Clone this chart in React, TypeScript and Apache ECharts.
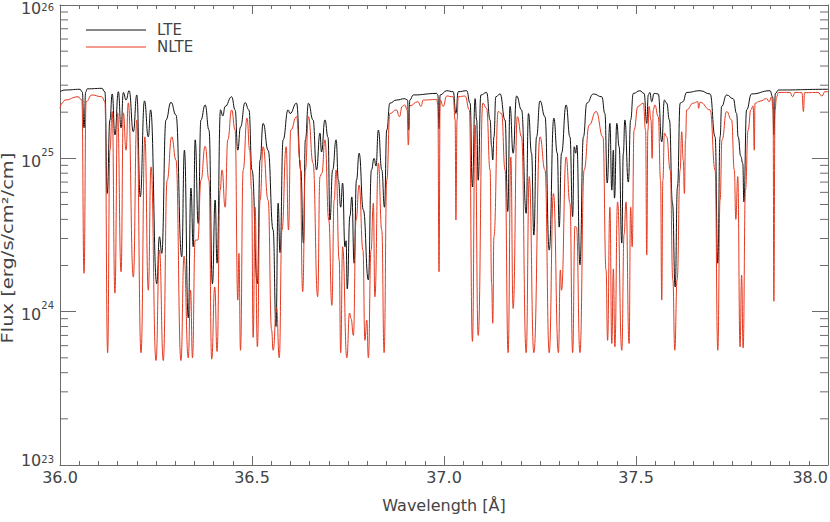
import React, { useEffect, useRef } from "react";
import * as echarts from "echarts";

// Wavelength [Å], flux in units of FLUX_UNIT
const FLUX_UNIT = 1e24;

const lteSpectrum: [number, number][] = [
  [36.000,27.2],[36.013,27.9],[36.052,28.2],[36.058,27.1],[36.0625,15.8],[36.067,27.1],[36.071,28.4],[36.109,28.6],
  [36.117,27.1],[36.123,5.9],[36.130,17.8],[36.136,26.3],[36.143,14.2],[36.152,27.2],[36.159,15.8],[36.165,26.9],
  [36.172,24.0],[36.180,27.6],[36.191,14.9],[36.200,25.9],[36.209,5.6],[36.220,23.7],[36.230,13.8],[36.236,20.7],
  [36.252,1.52],[36.259,3.08],[36.265,2.40],[36.276,17.8],[36.289,23.2],[36.302,19.2],[36.317,2.28],[36.324,11.3],
  [36.334,0.91],[36.341,6.4],[36.347,2.65],[36.352,13.2],[36.360,3.76],[36.367,17.8],[36.378,22.3],[36.388,15.3],
  [36.397,1.52],[36.404,5.35],[36.409,2.07],[36.418,20.7],[36.424,18.9],[36.430,21.8],[36.447,25.2],[36.456,20.7],
  [36.463,11.3],[36.470,16.0],[36.482,23.1],[36.492,20.7],[36.500,8.4],[36.514,1.52],[36.521,9.75],[36.529,16.9],
  [36.542,11.3],[36.555,3.41],[36.5625,0.80],[36.568,5.1],[36.573,2.43],[36.581,13.2],[36.594,20.7],[36.599,19.6],
  [36.616,22.9],[36.627,8.4],[36.634,2.8],[36.639,13.2],[36.647,22.9],[36.659,17.8],[36.668,8.4],[36.677,14.6],
  [36.681,11.0],[36.690,17.8],[36.698,13.7],[36.703,3.96],[36.710,8.4],[36.719,13.2],[36.725,7.2],[36.731,4.8],
  [36.736,6.9],[36.742,2.65],[36.745,2.9],[36.748,1.41],[36.755,4.2],[36.760,5.6],[36.766,2.07],[36.772,7.2],
  [36.779,10.8],[36.790,4.6],[36.803,1.61],[36.811,8.4],[36.818,10.0],[36.823,8.9],[36.829,15.3],[36.838,8.4],
  [36.845,4.8],[36.851,15.3],[36.859,22.9],[36.876,24.0],[36.898,24.5],[36.905,24.0],[36.908,15.3],[36.911,24.0],
  [36.920,25.9],[36.981,26.5],[36.984,25.9],[36.987,15.6],[36.990,25.9],[37.007,27.6],[37.024,27.2],[37.031,19.6],
  [37.037,27.2],[37.059,27.6],[37.068,22.9],[37.074,6.5],[37.081,24.5],[37.085,17.8],[37.089,7.2],[37.096,25.9],
  [37.111,26.9],[37.120,17.8],[37.124,11.9],[37.127,9.75],[37.130,13.8],[37.135,25.2],[37.146,26.3],[37.159,17.8],
  [37.166,4.5],[37.172,21.8],[37.180,10.8],[37.189,25.5],[37.202,20.7],[37.214,4.38],[37.220,19.6],[37.228,10.8],
  [37.234,3.16],[37.241,13.8],[37.250,23.7],[37.263,18.7],[37.274,2.52],[37.286,18.3],[37.295,10.8],[37.300,3.56],
  [37.306,10.8],[37.318,22.3],[37.328,13.8],[37.335,4.17],[37.339,11.9],[37.343,10.8],[37.346,12.2],[37.354,2.02],
  [37.363,13.8],[37.372,22.9],[37.389,26.3],[37.411,25.2],[37.419,19.6],[37.425,6.9],[37.432,16.9],[37.437,6.2],
  [37.441,11.3],[37.444,5.5],[37.450,16.9],[37.456,11.9],[37.463,2.8],[37.467,10.8],[37.471,17.8],[37.480,7.0],
  [37.486,17.8],[37.493,26.5],[37.510,27.6],[37.521,26.5],[37.528,16.9],[37.532,25.9],[37.536,26.9],[37.541,23.4],
  [37.547,26.5],[37.558,26.3],[37.567,12.8],[37.574,24.0],[37.580,22.9],[37.587,17.8],[37.595,5.1],[37.602,1.45],
  [37.608,6.5],[37.615,22.9],[37.622,23.4],[37.632,26.9],[37.667,27.6],[37.693,26.3],[37.706,13.8],[37.713,2.07],
  [37.719,13.8],[37.723,21.8],[37.736,25.9],[37.753,24.5],[37.762,19.6],[37.766,13.8],[37.773,10.3],[37.778,9.3],
  [37.781,5.2],[37.788,20.7],[37.801,26.3],[37.849,27.6],[37.856,25.2],[37.859,14.2],[37.863,26.5],[37.871,27.9],
  [37.997,28.2],[38.000,28.2]
];

const nlteSpectrum: [number, number][] = [
  [36.000,21.2],[36.005,22.9],[36.013,24.0],[36.047,25.2],[36.057,24.0],[36.0625,1.78],[36.068,23.4],[36.083,25.9],
  [36.109,25.2],[36.117,23.4],[36.124,0.54],[36.130,11.3],[36.136,20.2],[36.143,1.32],[36.150,19.8],[36.159,1.82],
  [36.165,19.8],[36.172,11.3],[36.178,23.0],[36.191,1.68],[36.200,17.8],[36.211,0.54],[36.221,13.8],[36.230,1.38],
  [36.237,8.8],[36.250,0.48],[36.259,2.52],[36.269,0.48],[36.279,7.2],[36.291,13.8],[36.302,9.75],[36.315,0.48],
  [36.323,2.3],[36.334,0.50],[36.340,1.38],[36.345,0.50],[36.352,2.93],[36.359,2.93],[36.367,7.2],[36.378,12.0],
  [36.388,7.2],[36.395,0.49],[36.403,1.45],[36.409,0.55],[36.417,6.2],[36.422,8.4],[36.430,4.8],[36.437,13.2],
  [36.447,20.7],[36.456,15.3],[36.463,1.19],[36.466,2.4],[36.470,0.56],[36.477,8.4],[36.487,18.3],[36.494,11.3],
  [36.499,6.2],[36.503,0.68],[36.508,4.8],[36.514,0.59],[36.521,5.35],[36.529,11.9],[36.542,5.35],[36.551,0.76],
  [36.555,0.56],[36.564,1.06],[36.571,0.50],[36.578,3.41],[36.589,11.9],[36.595,3.41],[36.601,15.3],[36.616,18.7],
  [36.625,9.75],[36.632,1.35],[36.639,8.4],[36.647,18.7],[36.659,9.3],[36.671,1.25],[36.677,7.6],[36.682,8.0],
  [36.690,13.2],[36.700,3.96],[36.708,1.1],[36.714,5.35],[36.719,8.4],[36.727,2.17],[36.731,0.54],[36.736,2.65],
  [36.747,0.50],[36.754,0.98],[36.758,0.9],[36.764,0.70],[36.771,3.96],[36.779,6.7],[36.789,2.52],[36.794,0.65],
  [36.799,0.88],[36.803,0.50],[36.810,2.52],[36.816,5.1],[36.820,1.25],[36.829,9.3],[36.838,3.41],[36.844,0.54],
  [36.851,7.2],[36.859,19.6],[36.876,20.7],[36.884,18.7],[36.891,21.8],[36.898,22.3],[36.904,20.7],[36.907,12.2],
  [36.911,22.0],[36.932,23.4],[36.940,21.8],[36.946,24.0],[36.981,24.2],[36.984,22.3],[36.987,1.82],[36.990,24.0],
  [36.998,21.8],[37.007,25.5],[37.024,25.2],[37.029,17.8],[37.031,3.96],[37.034,17.8],[37.037,25.2],[37.055,25.5],
  [37.066,20.7],[37.074,0.64],[37.081,16.5],[37.089,0.70],[37.101,22.9],[37.111,21.2],[37.120,8.4],[37.124,1.52],
  [37.127,0.84],[37.130,3.08],[37.141,20.2],[37.150,19.6],[37.159,8.4],[37.167,0.54],[37.174,10.2],[37.180,1.05],
  [37.191,18.7],[37.202,13.8],[37.214,0.54],[37.222,7.6],[37.234,0.54],[37.250,13.8],[37.263,8.4],[37.274,0.54],
  [37.285,5.9],[37.298,0.54],[37.303,1.87],[37.306,1.38],[37.318,10.2],[37.328,5.1],[37.335,0.54],[37.341,3.6],
  [37.345,3.55],[37.354,0.54],[37.365,8.4],[37.378,16.5],[37.396,20.2],[37.414,13.8],[37.422,1.87],[37.426,0.65],
  [37.432,4.8],[37.437,0.62],[37.441,1.9],[37.445,0.59],[37.452,5.2],[37.463,0.56],[37.469,3.2],[37.474,5.2],
  [37.482,0.62],[37.486,4.8],[37.490,2.65],[37.495,15.3],[37.505,21.8],[37.519,22.9],[37.525,15.3],[37.528,2.34],
  [37.531,15.3],[37.534,21.8],[37.539,17.8],[37.542,10.0],[37.545,20.7],[37.549,22.3],[37.558,18.7],[37.564,7.2],
  [37.567,1.19],[37.570,7.2],[37.574,14.6],[37.580,13.8],[37.589,8.4],[37.596,1.61],[37.601,0.56],[37.607,1.61],
  [37.615,8.4],[37.619,14.9],[37.623,9.75],[37.626,5.9],[37.629,13.2],[37.632,20.7],[37.649,22.9],[37.661,23.4],
  [37.663,21.2],[37.667,23.2],[37.693,20.7],[37.706,8.4],[37.713,0.56],[37.719,5.35],[37.724,13.2],[37.736,20.2],
  [37.749,17.8],[37.756,8.4],[37.760,4.0],[37.765,7.6],[37.771,0.59],[37.775,1.73],[37.779,0.58],[37.785,6.2],
  [37.792,15.3],[37.799,20.7],[37.805,22.0],[37.808,11.3],[37.810,22.9],[37.823,23.6],[37.840,24.5],[37.847,23.4],
  [37.853,25.2],[37.857,20.7],[37.859,1.17],[37.862,20.7],[37.866,25.1],[37.871,26.9],[37.901,26.9],[37.908,25.2],
  [37.914,26.9],[37.932,26.8],[37.936,20.2],[37.939,26.8],[37.974,26.9],[37.984,25.5],[37.992,27.2],[38.000,27.2]
];

const X_MIN = 36.0;
const X_MAX = 38.0;
const X_STEP = 0.5;
const Y_MIN = 1e23;
const Y_MAX = 1e26;
const Y_MINOR_TICKS = [
  2e23, 3e23, 4e23, 5e23, 6e23, 7e23, 8e23, 9e23,
  2e24, 3e24, 4e24, 5e24, 6e24, 7e24, 8e24, 9e24,
  2e25, 3e25, 4e25, 5e25, 6e25, 7e25, 8e25, 9e25
];
const SERIES_NAMES = ["LTE", "NLTE"];
const X_TITLE = "Wavelength [Å]";
const Y_TITLE = "Flux [erg/s/cm²/cm]";

const AXIS_COLOR = "#6b6b6b";
const TEXT_COLOR = "#444444";
const FONT = "'DejaVu Sans', sans-serif";
const LTE_COLOR = "#111111";
const NLTE_COLOR = "#e5391f";

export default function App() {
  const ref = useRef<HTMLDivElement>(null);

  useEffect(() => {
    if (!ref.current) return;
    const chart = echarts.init(ref.current, null, { renderer: "svg" });

    const axisCommon = {
      axisLine: { show: true, onZero: false, lineStyle: { color: AXIS_COLOR, width: 1 } },
      splitLine: { show: false },
    };

    const base = { color: TEXT_COLOR, fontFamily: FONT };
    const bigText = { ...base, fontSize: 16, lineHeight: 22, verticalAlign: "bottom" };
    const supText = { ...base, fontSize: 10, lineHeight: 12, verticalAlign: "top" };
    const expMax = Math.round(Math.log10(Y_MAX));
    const expMin = Math.round(Math.log10(Y_MIN));

    const option: any = {
      animation: false,
      grid: { left: 60, right: 2, top: 5, bottom: 57, containLabel: false, outerBoundsMode: "none" },
      xAxis: [
        {
          type: "value", min: X_MIN, max: X_MAX, interval: X_STEP, position: "bottom",
          ...axisCommon,
          axisTick: { show: true, inside: true, length: 9, lineStyle: { color: AXIS_COLOR } },
          minorTick: { show: true, splitNumber: 10, length: 4, lineStyle: { color: AXIS_COLOR } },
          axisLabel: {
            formatter: (v: number) => v.toFixed(1), fontSize: 16, color: TEXT_COLOR,
            fontFamily: FONT, margin: 4, hideOverlap: false, alignMaxLabel: "right",
          },
        },
        {
          type: "value", min: X_MIN, max: X_MAX, interval: X_STEP, position: "top",
          ...axisCommon,
          axisTick: { show: true, inside: true, length: 9, lineStyle: { color: AXIS_COLOR } },
          minorTick: { show: true, splitNumber: 10, length: 4, lineStyle: { color: AXIS_COLOR } },
          axisLabel: { show: false },
        },
      ],
      yAxis: [
        {
          type: "log", logBase: 10, min: Y_MIN, max: Y_MAX, position: "left",
          ...axisCommon,
          axisTick: { show: true, inside: true, length: 16, lineStyle: { color: AXIS_COLOR } },
          axisLabel: {
            margin: 6,
            formatter: (v: number) => {
              const e = Math.round(Math.log10(v));
              if (e === expMax) return "{bt|10}{st|" + e + "}";
              if (e === expMin) return "{bb|10}{sb|" + e + "}";
              return "{b|10}{s|" + e + "}";
            },
            rich: {
              b: bigText,
              s: supText,
              bt: { ...bigText, padding: [8, 0, 0, 0] },
              st: { ...supText, padding: [8, 0, 0, 0] },
              bb: { ...bigText, padding: [0, 0, 8, 0] },
              sb: { ...supText, padding: [0, 0, 8, 0] },
            },
          },
        },
        {
          type: "log", logBase: 10, min: Y_MIN, max: Y_MAX, position: "right",
          ...axisCommon,
          axisTick: { show: true, inside: true, length: 16, lineStyle: { color: AXIS_COLOR } },
          axisLabel: { show: false },
        },
      ],
      series: [
        {
          name: SERIES_NAMES[0], type: "line", xAxisIndex: 0, yAxisIndex: 0,
          data: lteSpectrum.map(([w, f]) => [w, f * FLUX_UNIT]),
          showSymbol: false, symbol: "none", smooth: 0.5, smoothMonotone: "x",
          lineStyle: { color: LTE_COLOR, width: 1 }, z: 3, silent: true,
        },
        {
          name: SERIES_NAMES[1], type: "line", xAxisIndex: 0, yAxisIndex: 0,
          data: nlteSpectrum.map(([w, f]) => [w, f * FLUX_UNIT]),
          showSymbol: false, symbol: "none", smooth: 0.5, smoothMonotone: "x",
          lineStyle: { color: NLTE_COLOR, width: 1 }, z: 4, silent: true,
        },
        {
          type: "custom", xAxisIndex: 0, yAxisIndex: 0, silent: true, clip: false, z: 5,
          data: Y_MINOR_TICKS.map((v) => [X_MIN, v]),
          encode: { x: 0, y: 1 },
          renderItem: (_params: any, api: any) => {
            const v = api.value(1);
            const l = api.coord([X_MIN, v]);
            const r = api.coord([X_MAX, v]);
            const style = { stroke: AXIS_COLOR, lineWidth: 1 };
            return {
              type: "group",
              children: [
                { type: "line", shape: { x1: l[0], y1: l[1], x2: l[0] + 8, y2: l[1] }, style },
                { type: "line", shape: { x1: r[0] - 8, y1: r[1], x2: r[0], y2: r[1] }, style },
              ],
            };
          },
        },
      ],
      graphic: [
        { type: "line", shape: { x1: 86, y1: 30, x2: 146, y2: 30 }, style: { stroke: LTE_COLOR, lineWidth: 1 } },
        { type: "line", shape: { x1: 86, y1: 47, x2: 146, y2: 47 }, style: { stroke: NLTE_COLOR, lineWidth: 1 } },
        {
          type: "text", x: 157, y: 30,
          style: { text: SERIES_NAMES[0], fontSize: 15, fill: TEXT_COLOR, fontFamily: FONT, textAlign: "left", textVerticalAlign: "middle" },
        },
        {
          type: "text", x: 157, y: 47,
          style: { text: SERIES_NAMES[1], fontSize: 15, fill: TEXT_COLOR, fontFamily: FONT, textAlign: "left", textVerticalAlign: "middle" },
        },
        {
          type: "text", x: 444, y: 505,
          style: { text: X_TITLE, fontSize: 16, fill: TEXT_COLOR, fontFamily: FONT, textAlign: "center", textVerticalAlign: "middle" },
        },
        {
          type: "text", x: 15, y: 248, rotation: Math.PI / 2, scaleX: 1.3,
          style: { text: Y_TITLE, fontSize: 15, fill: TEXT_COLOR, fontFamily: FONT, textAlign: "center", textVerticalAlign: "bottom" },
        },
      ],
    };

    chart.setOption(option);
    return () => chart.dispose();
  }, []);

  return (
    <div
      ref={ref}
      style={{ position: "fixed", left: 0, top: 0, width: 830, height: 522, background: "#fff" }}
    />
  );
}
